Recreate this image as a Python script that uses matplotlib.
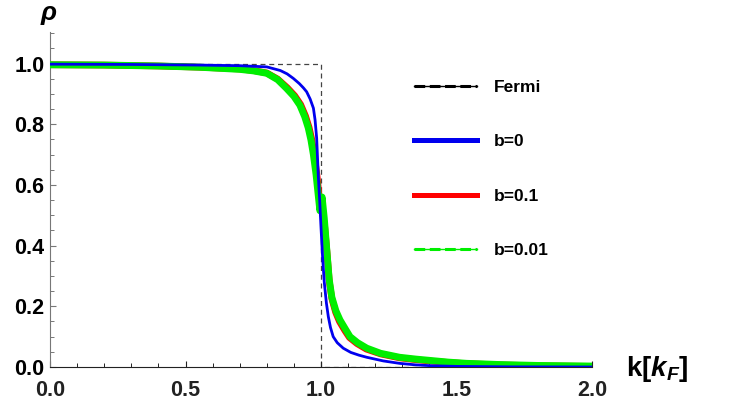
import matplotlib
matplotlib.use("Agg")
import matplotlib.pyplot as plt
from matplotlib.lines import Line2D

plt.rcParams['font.family'] = ['Liberation Sans', 'DejaVu Sans']
plt.rcParams['font.weight'] = 'bold'
plt.rcParams['mathtext.fontset'] = 'custom'
plt.rcParams['mathtext.rm'] = 'Liberation Sans:bold'
plt.rcParams['mathtext.it'] = 'Liberation Sans:italic:bold'
plt.rcParams['mathtext.bf'] = 'Liberation Sans:bold'

# step function of the free Fermi gas
k_fermi = [0.0, 1.0, 1.0, 2.0]
rho_fermi = [1.0, 1.0, 0.0, 0.0]

# b = 0
k_b0 = [0.0, 0.3, 0.55, 0.7, 0.8, 0.85, 0.875, 0.898, 0.92, 0.935, 0.947, 0.96,
        0.972, 0.978, 0.984, 0.99, 0.995, 1.0, 1.006, 1.012, 1.02, 1.027, 1.035,
        1.045, 1.06, 1.082, 1.11, 1.14, 1.169, 1.23, 1.29, 1.35, 1.41, 1.5,
        1.7, 2.0]
rho_b0 = [0.998, 0.997, 0.995, 0.993, 0.989, 0.977, 0.966, 0.951, 0.934, 0.92,
          0.907, 0.883, 0.853, 0.815, 0.754, 0.63, 0.55, 0.46, 0.36, 0.28,
          0.21, 0.166, 0.13, 0.10, 0.08, 0.062, 0.048, 0.039, 0.032, 0.02,
          0.012, 0.007, 0.004, 0.002, 0.0005, 0.0]

# b = 0.1
k_b01 = [0.0, 0.2, 0.4, 0.55, 0.7, 0.75, 0.8, 0.84, 0.876, 0.903, 0.925, 0.943,
         0.956, 0.966, 0.975, 0.985, 0.993, 0.999, 1.006, 1.014, 1.022, 1.031,
         1.04, 1.054, 1.068, 1.088, 1.105, 1.133, 1.167, 1.22, 1.29, 1.35,
         1.41, 1.47, 1.537, 1.6, 1.66, 1.8, 2.0]
rho_b01 = [0.996, 0.995, 0.992, 0.988, 0.982, 0.977, 0.969, 0.949, 0.92, 0.894,
           0.865, 0.827, 0.79, 0.75, 0.70, 0.633, 0.565, 0.53, 0.51, 0.46,
           0.38, 0.28, 0.225, 0.18, 0.15, 0.12, 0.097, 0.077, 0.059, 0.043,
           0.030, 0.024, 0.019, 0.015, 0.011, 0.009, 0.007, 0.004, 0.002]

# b = 0.01
k_b001 = [0.0, 0.2, 0.4, 0.55, 0.7, 0.75, 0.8, 0.84, 0.873, 0.9, 0.922, 0.94,
          0.953, 0.963, 0.972, 0.982, 0.99, 0.996, 1.004, 1.012, 1.02, 1.03,
          1.04, 1.055, 1.07, 1.09, 1.107, 1.135, 1.169, 1.22, 1.29, 1.35, 1.41,
          1.47, 1.537, 1.6, 1.66, 1.8, 2.0]
rho_b001 = [0.996, 0.995, 0.992, 0.988, 0.981, 0.976, 0.968, 0.947, 0.918,
            0.892, 0.863, 0.825, 0.788, 0.748, 0.70, 0.633, 0.565, 0.515, 0.56,
            0.49, 0.40, 0.29, 0.23, 0.185, 0.155, 0.125, 0.10, 0.08, 0.062,
            0.045, 0.032, 0.026, 0.021, 0.016, 0.012, 0.010, 0.008, 0.005,
            0.003]

fig = plt.figure(figsize=(7.3, 4.05), dpi=100)
ax = fig.add_axes([50 / 730, 38 / 405, 542 / 730, 335 / 405])

ax.plot(k_fermi, rho_fermi, color='#444444', lw=0.9, dashes=(4, 3), zorder=1)
ax.plot(k_b01, rho_b01, color='red', lw=4.8, zorder=2,
        solid_joinstyle='round', solid_capstyle='butt')
ax.plot(k_b001, rho_b001, color='#00ee00', lw=5.0, zorder=3,
        solid_joinstyle='round', solid_capstyle='butt')
ax.plot(k_b0, rho_b0, color='#0000ee', lw=2.0, zorder=4,
        solid_joinstyle='round')

ax.set_xlim(0, 2.0)
ax.set_ylim(0, 1.104)
ax.set_xticks([0.0, 0.5, 1.0, 1.5, 2.0])
ax.set_xticks([i / 10 for i in range(21)], minor=True)
ax.set_yticks([0.0, 0.2, 0.4, 0.6, 0.8, 1.0])
ax.set_yticks([i / 20 for i in range(23)], minor=True)
ax.xaxis.set_major_formatter(matplotlib.ticker.FormatStrFormatter('%.1f'))
ax.yaxis.set_major_formatter(matplotlib.ticker.FormatStrFormatter('%.1f'))

for s in ['top', 'right']:
    ax.spines[s].set_visible(False)
ax.spines['bottom'].set_color('#222222')
ax.spines['left'].set_color('#777777')
ax.tick_params(which='both', direction='in', labelsize=15.5, colors='#222222')
ax.tick_params(axis='y', which='both', colors='#777777', labelcolor='black')
ax.tick_params(which='major', length=4.3, width=0.8)
ax.tick_params(which='minor', length=2.7, width=0.7)
ax.tick_params(axis='x', pad=9)
ax.tick_params(axis='y', pad=4)
for lab in ax.get_xticklabels() + ax.get_yticklabels():
    lab.set_fontweight('bold')

fig.text(49 / 730, 1 - 15 / 405, r'$\rho$', fontsize=19, ha='center', va='center')
fig.text(626 / 730, 1 - 369 / 405, r'$\mathrm{k[}k_F\mathrm{]}$', fontsize=20,
         ha='left', va='center')

h_fermi = (Line2D([], [], color='black', lw=1.0),
           Line2D([], [], color='black', lw=2.2, dashes=(3.5, 1.5)))
h_b0 = Line2D([], [], color='#0000ee', lw=3.6)
h_b01 = Line2D([], [], color='red', lw=3.6)
h_b001 = (Line2D([], [], color='#00ee00', lw=1.0),
          Line2D([], [], color='#00ee00', lw=2.2, dashes=(3.5, 1.5)))
fig.legend([h_fermi, h_b0, h_b01, h_b001], ['Fermi', 'b=0', 'b=0.1', 'b=0.01'],
           loc='upper left', bbox_to_anchor=(414 / 730, 1 - 80 / 405),
           frameon=False, handlelength=3.62, handletextpad=0.98,
           labelspacing=2.25, borderpad=0, borderaxespad=0,
           prop={'weight': 'bold', 'size': 12.5})

fig.savefig('out.png', dpi=100)
